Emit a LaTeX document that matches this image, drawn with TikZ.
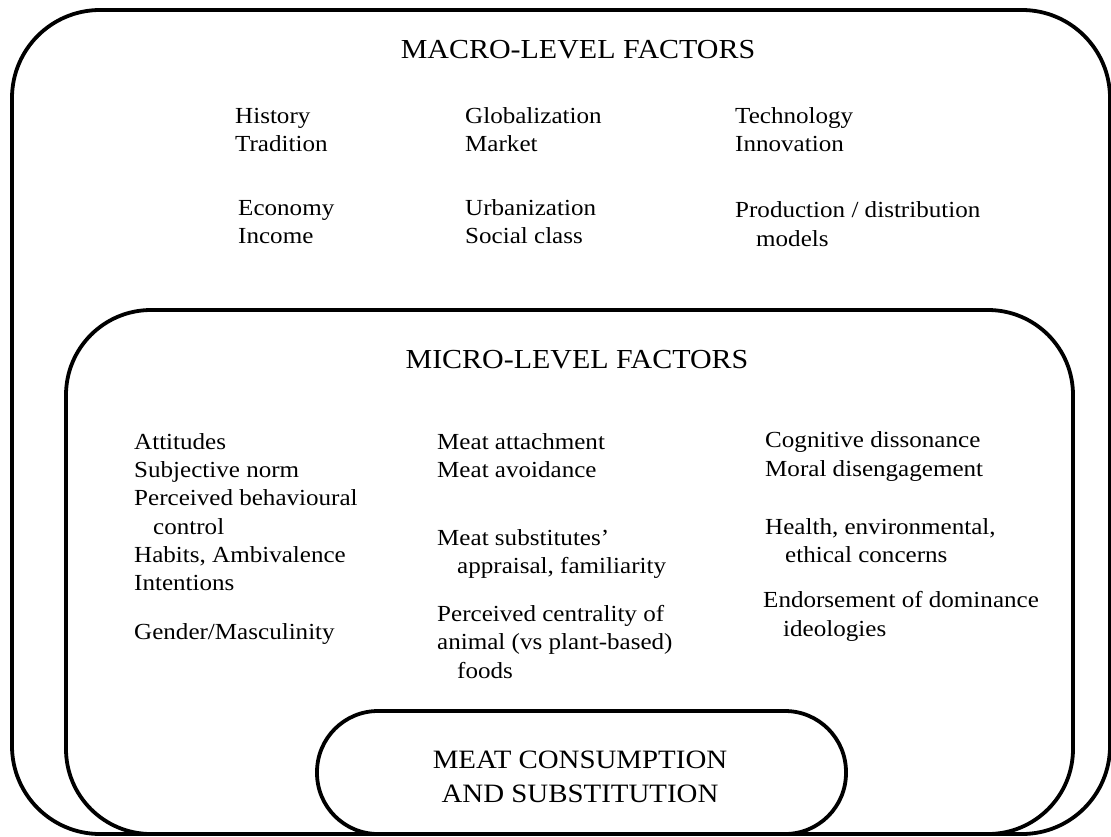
\documentclass[tikz,border=0pt]{standalone}
\usepackage{fontspec}
\setmainfont{Liberation Serif}[FakeStretch=1.09]
\begin{document}
\begin{tikzpicture}[x=1pt,y=-1pt,
  frame/.style={draw=black,line width=3.8pt,rounded corners=#1},
  txt/.style={anchor=base west,inner sep=0pt,font=\fontsize{23}{28}\selectfont},
  ttl/.style={anchor=base,inner sep=0pt,font=\fontsize{27.5}{34}\selectfont},
  pilltxt/.style={anchor=base,inner sep=0pt,font=\fontsize{26.5}{34}\selectfont}]
\useasboundingbox (0,0) rectangle (1111,836);
% frames
\draw[frame=88pt] (12,10) rectangle (1110,834);
\draw[frame=85pt] (66,310) rectangle (1073,834);
\draw[frame=61pt] (317,711) rectangle (846,834);
% macro
\node[ttl] (macro) at (578,58) {MACRO-LEVEL FACTORS};
\node[txt] (m1a) at (235,123) {History};
\node[txt] (m1b) at (235,151) {Tradition};
\node[txt] (m1c) at (238,215) {Economy};
\node[txt] (m1d) at (238,243) {Income};
\node[txt] (m2a) at (465,123) {Globalization};
\node[txt] (m2b) at (465,151) {Market};
\node[txt] (m2c) at (465,215) {Urbanization};
\node[txt] (m2d) at (465,243) {Social class};
\node[txt] (m3a) at (735,123) {Technology};
\node[txt] (m3b) at (735,151) {Innovation};
\node[txt] (m3c) at (735,217) {Production / distribution};
\node[txt] (m3d) at (756,246) {models};
% micro
\node[ttl] (micro) at (577,368) {MICRO-LEVEL FACTORS};
\node[txt] (a1) at (134,449) {Attitudes};
\node[txt] (a2) at (134,477) {Subjective norm};
\node[txt] (a3) at (134,505) {Perceived behavioural};
\node[txt] (a4) at (153,534) {control};
\node[txt] (a5) at (134,562) {Habits, Ambivalence};
\node[txt] (a6) at (134,590) {Intentions};
\node[txt] (a7) at (134,639) {Gender/Masculinity};
\node[txt] (b1) at (437,449) {Meat attachment};
\node[txt] (b2) at (437,477) {Meat avoidance};
\node[txt] (b3) at (437,545) {Meat substitutes'};
\node[txt] (b4) at (457,573) {appraisal, familiarity};
\node[txt] (b5) at (437,621) {Perceived centrality of};
\node[txt] (b6) at (437,649) {animal (vs plant-based)};
\node[txt] (b7) at (457,678) {foods};
\node[txt] (c1) at (765,447) {Cognitive dissonance};
\node[txt] (c2) at (765,476) {Moral disengagement};
\node[txt] (c3) at (765,534) {Health, environmental,};
\node[txt] (c4) at (785,562) {ethical concerns};
\node[txt] (c5) at (763,607) {Endorsement of dominance};
\node[txt] (c6) at (783,636) {ideologies};
% center
\node[pilltxt] (mc1) at (580,768) {MEAT CONSUMPTION};
\node[pilltxt] (mc2) at (580,802) {AND SUBSTITUTION};
\end{tikzpicture}
\end{document}
